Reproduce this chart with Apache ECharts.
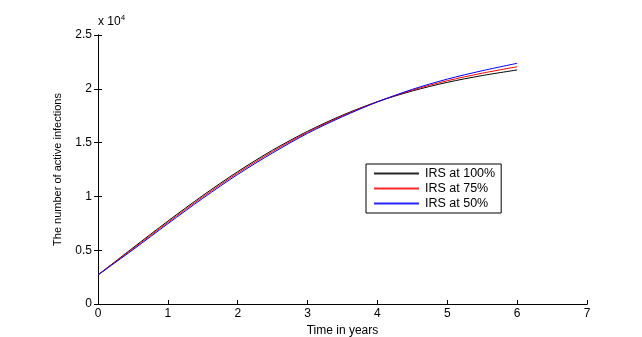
<!DOCTYPE html>
<html><head><meta charset="utf-8">
<script src="https://cdn.jsdelivr.net/npm/echarts@6/dist/echarts.min.js"></script>
<style>html,body{margin:0;padding:0;background:#fff}#c{width:642px;height:337px}</style>
</head><body><div id="c"></div>
<script>
var years = [0, 0.5, 1, 1.5, 2, 2.5, 3, 3.5, 4, 4.5, 5, 5.5, 6];
var irs100 = [2700, 5220, 7700, 10080, 12300, 14300, 16050, 17550, 18800, 19800, 20600, 21230, 21750];
var irs75  = [2700, 5130, 7580, 9950, 12170, 14170, 15960, 17480, 18800, 19880, 20750, 21450, 22050];
var irs50  = [2700, 5040, 7460, 9820, 12040, 14040, 15860, 17410, 18780, 19950, 20900, 21680, 22370];
var names = ['IRS at 100%', 'IRS at 75%', 'IRS at 50%'];
var colors = ['#000000', '#ff0000', '#0000ff'];
var xTicks = [0, 1, 2, 3, 4, 5, 6, 7];
var yTicks = [0, 5000, 10000, 15000, 20000, 25000];

function pairs(arr){ return years.map(function(t,i){ return [t, arr[i]]; }); }
var font = 'Liberation Sans';
var chart = echarts.init(document.getElementById('c'), null, {renderer:'canvas'});
var axisLine = {show:true, lineStyle:{color:'#000', width:1}};
chart.setOption({
  animation:false,
  backgroundColor:'#fff',
  grid:{left:98, right:55, top:35, bottom:33, containLabel:false, outerBoundsMode:'none'},
  xAxis:[{
    type:'value', min:0, max:7, interval:1,
    name:'Time in years', nameLocation:'middle', nameGap:18,
    nameTextStyle:{color:'#000', fontFamily:font, fontSize:12},
    axisLine:axisLine, axisTick:{show:true, inside:true, length:4, lineStyle:{color:'#000'}},
    axisLabel:{color:'#000', fontFamily:font, fontSize:12, margin:4},
    splitLine:{show:false}
  },{
    type:'value', min:0, max:7, interval:1, position:'top',
    axisLine:axisLine, axisTick:{show:false},
    axisLabel:{show:false}, splitLine:{show:false}
  }],
  yAxis:[{
    type:'value', min:0, max:25000, interval:5000,
    name:'The number of active infections', nameLocation:'middle', nameGap:35,
    nameTextStyle:{color:'#000', fontFamily:font, fontSize:11},
    axisLine:axisLine, axisTick:{show:true, inside:true, length:4, lineStyle:{color:'#000'}},
    axisLabel:{color:'#000', fontFamily:font, fontSize:12, margin:6,
      formatter:function(v){ return String(v/10000); }},
    splitLine:{show:false}
  },{
    type:'value', min:0, max:25000, interval:5000, position:'right',
    axisLine:axisLine, axisTick:{show:true, inside:true, length:4, lineStyle:{color:'#000'}},
    axisLabel:{show:false}, splitLine:{show:false}
  }],
  legend:{
    orient:'vertical', left:366, top:164,
    backgroundColor:'#fff', borderColor:'#000', borderWidth:1,
    padding:[3,6,3,8], itemGap:2, itemWidth:45, itemHeight:2, icon:'rect',
    textStyle:{color:'#000', fontFamily:font, fontSize:12.5, padding:[0,0,0,1]},
    data:names.map(function(n,i){ return {name:n, itemStyle:{color:colors[i], opacity:0.85}}; })
  },
  graphic:[{
    type:'text', left:98, top:14,
    style:{text:'x 10{s|4}', rich:{s:{fontSize:8, verticalAlign:'top', padding:[0,0,7,0], fontFamily:font, fill:'#000'}},
      fontFamily:font, fontSize:12, fill:'#000'}
  }],
  series:[0,1,2].map(function(i){
    return {
      type:'line', name:names[i], data:pairs([irs100,irs75,irs50][i]),
      smooth:0.3, showSymbol:false, symbol:'none', color:colors[i],
      lineStyle:{color:colors[i], width:1}, itemStyle:{color:colors[i]}
    };
  })
});
</script></body></html>
